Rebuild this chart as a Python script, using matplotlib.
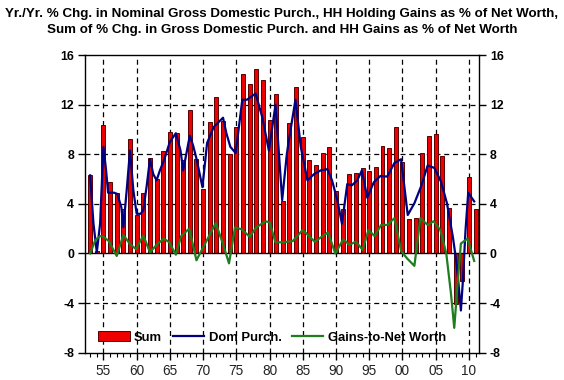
import matplotlib
matplotlib.use("Agg")
import matplotlib.pyplot as plt
from matplotlib.patches import Patch
from matplotlib.lines import Line2D

plt.rcParams['font.family'] = ['Liberation Sans', 'DejaVu Sans']

# annual sum of % chg in dom purch + HH gains to net worth
years = list(range(1953, 2012))
sum_vals = [6.3, 0.2, 10.35, 5.8, 4.9, 3.6, 9.2, 3.1, 4.9, 7.7,
            6.0, 8.3, 9.8, 9.7, 7.5, 11.6, 7.65, 5.2, 10.6, 12.6,
            10.7, 8.0, 10.2, 14.5, 13.65, 14.9, 14.0, 10.8, 12.9, 4.2,
            10.5, 13.4, 9.4, 7.5, 7.1, 8.1, 8.6, 5.0, 3.6, 6.4,
            6.5, 6.9, 6.65, 7.0, 8.65, 8.5, 10.2, 7.4, 2.8, 2.85,
            8.1, 9.45, 9.6, 7.9, 3.7, -4.1, -2.2, 6.15, 3.6]

# yr/yr % chg in nominal gross domestic purchases
dom_t = [1953.0, 1953.5, 1954.0, 1954.5, 1955.0, 1955.4, 1955.7, 1956.6, 1957.1, 1957.7,
         1958.0, 1958.5, 1959.0, 1959.5, 1960.0, 1960.6, 1961.0, 1961.5, 1962.0, 1962.5,
         1963.0, 1963.5, 1964.1, 1965.0, 1965.9, 1966.6, 1967.0, 1968.0, 1968.5, 1969.0,
         1969.9, 1970.6, 1971.6, 1973.0, 1973.5, 1974.1, 1974.9, 1975.9, 1976.6, 1977.9,
         1978.9, 1979.9, 1980.9, 1981.9, 1982.2, 1982.6, 1982.9, 1983.9, 1984.7, 1985.7,
         1986.7, 1987.7, 1988.7, 1989.4, 1990.2, 1990.9, 1991.7, 1992.4, 1993.2, 1993.9,
         1994.7, 1995.7, 1996.7, 1997.7, 1998.8, 1999.8, 2000.8, 2001.8, 2002.8, 2003.8,
         2004.8, 2005.8, 2006.7, 2007.6, 2008.1, 2008.4, 2008.8, 2009.1, 2009.5, 2009.9,
         2010.8]
dom_v = [6.3, 2.4, 0.1, 2.4, 8.6, 6.7, 4.9, 4.9, 4.8, 3.7,
         2.1, 5.1, 8.3, 5.1, 3.2, 3.2, 3.5, 5.4, 7.6, 6.4,
         5.9, 6.7, 7.5, 9.0, 9.7, 8.3, 6.7, 9.5, 8.7, 7.65,
         5.35, 8.9, 10.2, 10.95, 9.7, 8.6, 8.1, 12.4, 12.4, 12.9,
         11.0, 8.3, 12.0, 4.3, 5.9, 8.0, 9.1, 12.4, 8.6, 5.9,
         6.4, 6.7, 6.8, 5.9, 4.3, 2.4, 5.6, 5.5, 5.9, 6.7,
         4.5, 5.75, 6.25, 6.2, 7.3, 7.6, 3.1, 4.05, 5.4, 7.1,
         6.9, 5.8, 4.05, 1.3, -0.6, -2.2, -4.6, -2.2, 1.9, 4.9,
         4.2]

# HH holding gains as % of net worth
gain_t = [1953.0, 1953.8, 1954.5, 1955.0, 1955.8, 1957.0, 1958.0, 1959.0, 1959.9, 1961.0,
          1962.0, 1963.1, 1964.1, 1964.9, 1965.9, 1966.7, 1967.9, 1969.0, 1970.5, 1971.9,
          1973.0, 1973.9, 1974.8, 1975.8, 1977.0, 1978.0, 1979.4, 1980.0, 1980.9, 1982.0,
          1983.5, 1985.0, 1986.8, 1988.8, 1989.9, 1991.1, 1992.0, 1993.0, 1994.0, 1994.9,
          1995.8, 1996.8, 1997.7, 1998.8, 1999.8, 2000.7, 2001.8, 2002.7, 2003.8, 2004.7,
          2005.7, 2006.6, 2007.3, 2007.8, 2008.3, 2008.8, 2009.8, 2010.8]
gain_v = [0.0, 1.1, 1.4, 1.35, 1.0, -0.2, 1.5, 0.75, 0.35, 1.45,
          0.1, 0.75, 1.2, 0.9, -0.1, 1.4, 2.0, -0.55, 1.0, 2.45,
          0.75, -0.8, 2.1, 1.95, 1.35, 2.1, 2.6, 2.5, 0.9, 0.9,
          1.0, 1.9, 0.95, 1.7, 0.0, 1.15, 0.7, 0.95, 0.3, 1.9,
          1.4, 2.3, 2.3, 2.85, 0.2, -0.4, -1.0, 2.85, 2.3, 2.6,
          1.9, 0.0, -3.2, -6.0, -2.5, 0.8, 1.2, -0.6]

major_years = list(range(1955, 2011, 5))
major_labels = ['55', '60', '65', '70', '75', '80', '85', '90', '95', '00', '05', '10']
y_ticks = [-8, -4, 0, 4, 8, 12, 16]

fig = plt.figure(figsize=(5.64, 3.8), dpi=100)
ax = fig.add_axes([0.151, 0.072, 0.698, 0.783])

ax.bar(years, sum_vals, width=0.6, color='#ee0000', edgecolor='#5a0000', linewidth=0.7, zorder=2)
ax.plot(dom_t, dom_v, color='#000080', lw=1.6, zorder=3)
ax.plot(gain_t, gain_v, color='#1e7d1e', lw=1.6, zorder=4)

ax.set_xlim(1952.25, 2011.5)
ax.set_ylim(-8, 16)

for x in major_years:
    ax.axvline(x, color='black', lw=0.9, ls=(0, (4, 3)), zorder=1)
for y in y_ticks[1:-1]:
    if y == 0:
        ax.axhline(0, color='black', lw=1.0, zorder=2.5)
    else:
        ax.axhline(y, color='black', lw=0.9, ls=(0, (4, 3)), zorder=1)

ax.set_xticks(major_years)
ax.set_xticklabels(major_labels, fontsize=9.8, color='#222222')
ax.set_xticks(years, minor=True)
ax.set_yticks(y_ticks)
ax.set_yticklabels([str(v) for v in y_ticks], fontsize=8.8, fontweight='bold')
ax.tick_params(axis='x', which='major', direction='out', length=5, width=1, pad=3)
ax.tick_params(axis='x', which='minor', direction='out', length=3, width=0.8)
ax.tick_params(axis='y', which='major', direction='out', length=5, width=1,
               left=True, right=True, labelleft=True, labelright=True, pad=3)
for s in ax.spines.values():
    s.set_linewidth(1.0)

handles = [Patch(facecolor='#ee0000', edgecolor='#5a0000', linewidth=0.7),
           Line2D([], [], color='#000080', lw=1.6),
           Line2D([], [], color='#1e7d1e', lw=1.6)]
ax.legend(handles, ['Sum', 'Dom Purch.', 'Gains-to-Net Worth'], ncol=3,
          loc='center left', bbox_to_anchor=(0.02, 0.052), frameon=False,
          prop={'weight': 'bold', 'size': 9.4}, handlelength=2.4, handleheight=0.85,
          handletextpad=0.35, columnspacing=0.8, borderaxespad=0)

fig.suptitle('Yr./Yr. % Chg. in Nominal Gross Domestic Purch., HH Holding Gains as % of Net Worth,\n'
             'Sum of % Chg. in Gross Domestic Purch. and HH Gains as % of Net Worth',
             x=0.5, y=0.98, fontsize=9.6, fontweight='bold', linespacing=1.5)

fig.savefig('out.png', dpi=100)
